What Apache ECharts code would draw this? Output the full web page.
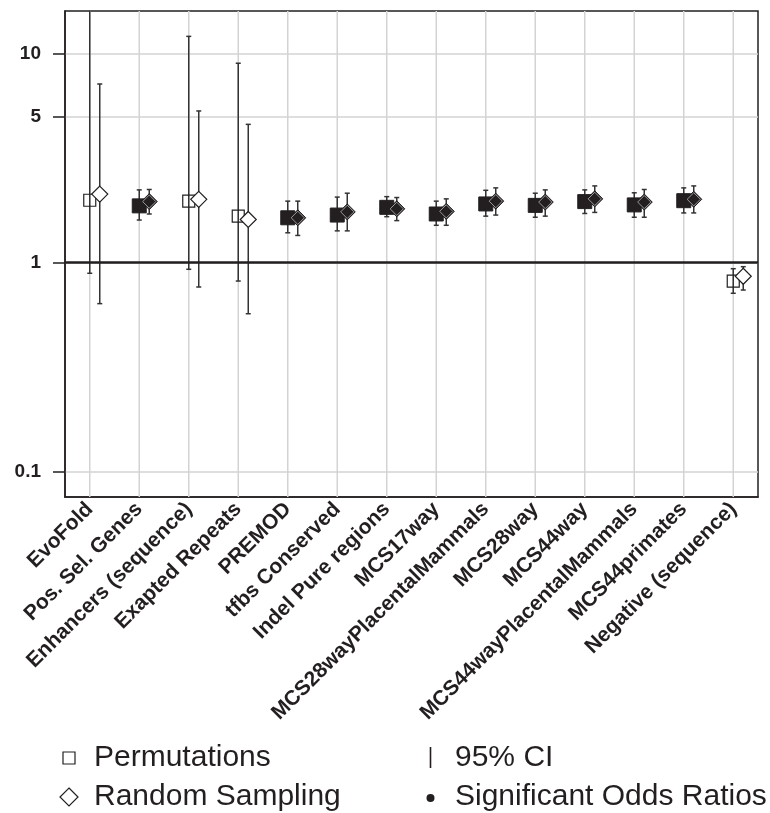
<!DOCTYPE html>
<html>
<head>
<meta charset="utf-8">
<script src="https://cdn.jsdelivr.net/npm/echarts@6/dist/echarts.min.js"></script>
<style>
  html, body { margin: 0; padding: 0; background: #fff; }
  #chart { width: 770px; height: 813px; }
</style>
</head>
<body>
<div id="chart"></div>
<script>
// Odds ratios of each annotation set, with 95% confidence intervals,
// estimated by permutations (squares) and by random sampling (diamonds).
const categories = [
  'EvoFold', 'Pos. Sel. Genes', 'Enhancers (sequence)', 'Exapted Repeats', 'PREMOD',
  'tfbs Conserved', 'Indel Pure regions', 'MCS17way', 'MCS28wayPlacentalMammals',
  'MCS28way', 'MCS44way', 'MCS44wayPlacentalMammals', 'MCS44primates', 'Negative (sequence)'
];

const permOR   = [1.99, 1.87, 1.97, 1.67, 1.64, 1.69, 1.84, 1.71, 1.91, 1.88, 1.96, 1.89, 1.98, 0.816];
const permLow  = [0.89, 1.60, 0.93, 0.817, 1.39, 1.42, 1.66, 1.51, 1.67, 1.65, 1.72, 1.65, 1.73, 0.714];
const permHigh = [25.0, 2.23, 12.1, 9.0, 1.97, 2.06, 2.07, 1.97, 2.22, 2.15, 2.23, 2.16, 2.28, 0.936];

const sampOR   = [2.13, 1.96, 2.01, 1.61, 1.64, 1.75, 1.81, 1.76, 1.97, 1.95, 2.02, 1.95, 2.01, 0.861];
const sampLow  = [0.637, 1.71, 0.765, 0.57, 1.35, 1.42, 1.59, 1.51, 1.69, 1.67, 1.74, 1.65, 1.73, 0.74];
const sampHigh = [7.16, 2.24, 5.32, 4.59, 1.97, 2.15, 2.05, 2.02, 2.28, 2.23, 2.33, 2.24, 2.33, 0.957];

const significant = [false, true, false, false, true, true, true, true, true, true, true, true, true, false];

const yTicks = [0.1, 1, 5, 10];
const yMin = 0.0757;
const yMax = 16;

const INK = '#231f20';
const BAR = '#333333';
const GRIDC = '#d3d3d3';
const FONT = "'Liberation Sans', Arial, Helvetica, sans-serif";

function rows(or, lo, hi) {
  return categories.map((c, i) => [i, lo[i], hi[i], or[i], significant[i] ? 1 : 0]);
}

// One renderer per estimate: CI whisker, caps, then the marker on top.
function makeRenderer(shape, dx) {
  return function (params, api) {
    const cs = params.coordSys;
    const i = api.value(0);
    const x = api.coord([i, api.value(3)])[0] + dx;
    const yMid = api.coord([i, api.value(3)])[1];
    const yLoRaw = api.coord([i, api.value(1)])[1];
    const yHiRaw = api.coord([i, api.value(2)])[1];
    const top = cs.y, bottom = cs.y + cs.height;
    const yHi = Math.max(yHiRaw, top);
    const yLo = Math.min(yLoRaw, bottom);
    const sig = api.value(4) === 1;
    const children = [];
    const lineStyle = { stroke: BAR, lineWidth: 1.5 };
    children.push({ type: 'line', shape: { x1: x, y1: yHi, x2: x, y2: yLo }, style: lineStyle });
    if (yHiRaw >= top) {
      children.push({ type: 'line', shape: { x1: x - 2.5, y1: yHi, x2: x + 2.5, y2: yHi }, style: lineStyle });
    }
    if (yLoRaw <= bottom) {
      children.push({ type: 'line', shape: { x1: x - 2.5, y1: yLo, x2: x + 2.5, y2: yLo }, style: lineStyle });
    }
    if (shape === 'square') {
      if (sig) {
        children.push({ type: 'rect', shape: { x: x - 7, y: yMid - 7, width: 14, height: 14 },
          style: { fill: INK, stroke: INK, lineWidth: 1 } });
      } else {
        children.push({ type: 'rect', shape: { x: x - 6, y: yMid - 6, width: 12, height: 12 },
          style: { fill: 'rgba(255,255,255,0)', stroke: INK, lineWidth: 1.2 } });
      }
    } else {
      const h = 8;
      const pts = [[x, yMid - h], [x + h, yMid], [x, yMid + h], [x - h, yMid]];
      if (sig) {
        children.push({ type: 'polygon', shape: { points: pts }, style: { fill: INK, stroke: INK, lineWidth: 1 } });
        const g = 6.6;
        children.push({ type: 'polygon',
          shape: { points: [[x, yMid - g], [x + g, yMid], [x, yMid + g], [x - g, yMid]] },
          style: { fill: INK, stroke: '#b8b8b8', lineWidth: 0.8 } });
      } else {
        children.push({ type: 'polygon', shape: { points: pts }, style: { fill: '#fff', stroke: INK, lineWidth: 1.2 } });
      }
    }
    return { type: 'group', children: children };
  };
}

// Vertical guide lines through every category.
function guideRenderer(params, api) {
  const cs = params.coordSys;
  const x = api.coord([api.value(0), 1])[0];
  return { type: 'line', shape: { x1: x, y1: cs.y, x2: x, y2: cs.y + cs.height },
    style: { stroke: GRIDC, lineWidth: 1.5 } };
}

const chart = echarts.init(document.getElementById('chart'), null, { renderer: 'canvas' });

const legendFont = '30px ' + FONT;

const option = {
  animation: false,
  backgroundColor: '#fff',
  grid: {
    left: 65, right: 12, top: 11, bottom: 316,
    show: true, borderColor: INK, borderWidth: 1.5, backgroundColor: 'transparent'
  },
  xAxis: {
    type: 'category',
    data: categories,
    boundaryGap: true,
    axisLine: { show: true, lineStyle: { color: INK, width: 1.5 } },
    axisTick: { show: false },
    splitLine: { show: false },
    axisLabel: {
      interval: 0, rotate: 45, margin: 9,
      fontFamily: FONT, fontWeight: 'bold', fontSize: 21, color: INK
    }
  },
  yAxis: {
    type: 'log',
    logBase: 10,
    min: yMin, max: yMax,
    axisLine: { show: true, lineStyle: { color: INK, width: 1.5 } },
    axisTick: { show: true, length: 12, customValues: yTicks, lineStyle: { color: INK, width: 1.5 } },
    axisLabel: {
      customValues: yTicks, margin: 24,
      fontFamily: FONT, fontWeight: 'bold', fontSize: 19, color: INK,
      formatter: v => String(Number(Number(v).toPrecision(3)))
    },
    splitLine: { show: true, lineStyle: { color: GRIDC, width: 1.5 } }
  },
  series: [
    {
      type: 'custom', name: 'guides', z: 1,
      renderItem: guideRenderer,
      data: categories.map((c, i) => [i, 1]),
      encode: { x: 0, y: 1 }, silent: true,
      markLine: {
        silent: true, symbol: 'none', label: { show: false },
        lineStyle: { color: INK, width: 2.6, type: 'solid' },
        data: [{ yAxis: 1 }]
      }
    },
    {
      type: 'custom', name: 'Permutations', z: 3,
      renderItem: makeRenderer('square', 0),
      data: rows(permOR, permLow, permHigh),
      encode: { x: 0, y: [1, 2, 3] }
    },
    {
      type: 'custom', name: 'Random Sampling', z: 4,
      renderItem: makeRenderer('diamond', 10),
      data: rows(sampOR, sampLow, sampHigh),
      encode: { x: 0, y: [1, 2, 3] }
    }
  ],
  graphic: [
    { type: 'rect', shape: { x: 63, y: 752, width: 12, height: 12 },
      style: { fill: '#fff', stroke: INK, lineWidth: 1.2 } },
    { type: 'text', x: 94, y: 758,
      style: { text: 'Permutations', fill: INK, font: legendFont, verticalAlign: 'middle' } },
    { type: 'polygon', shape: { points: [[69, 788], [78, 797], [69, 806], [60, 797]] },
      style: { fill: '#fff', stroke: INK, lineWidth: 1.2 } },
    { type: 'text', x: 94, y: 797,
      style: { text: 'Random Sampling', fill: INK, font: legendFont, verticalAlign: 'middle' } },
    { type: 'line', shape: { x1: 430.5, y1: 747, x2: 430.5, y2: 768 },
      style: { stroke: INK, lineWidth: 1.6 } },
    { type: 'text', x: 455, y: 758,
      style: { text: '95% CI', fill: INK, font: legendFont, verticalAlign: 'middle' } },
    { type: 'circle', shape: { cx: 430.5, cy: 798, r: 4 }, style: { fill: INK } },
    { type: 'text', x: 455, y: 797,
      style: { text: 'Significant Odds Ratios', fill: INK, font: legendFont, verticalAlign: 'middle' } }
  ]
};

chart.setOption(option);
</script>
</body>
</html>
